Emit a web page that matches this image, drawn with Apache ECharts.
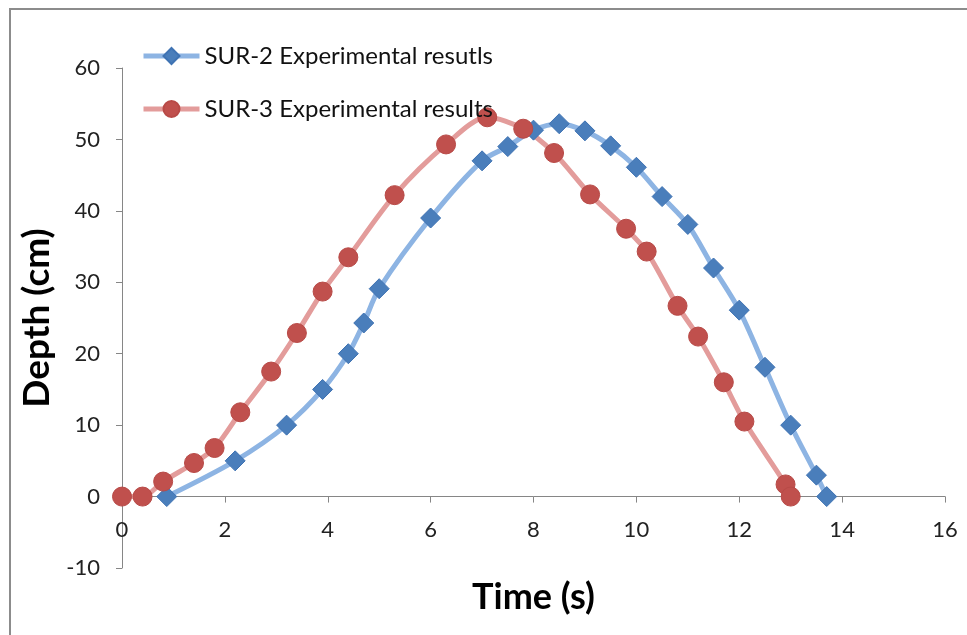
<!DOCTYPE html>
<html>
<head>
<meta charset="utf-8">
<script src="https://cdn.jsdelivr.net/npm/echarts@6/dist/echarts.min.js"></script>
<style>
  html, body { margin: 0; padding: 0; background: #fff; }
  #main { width: 967px; height: 635px; }
</style>
</head>
<body>
<div id="main"></div>
<script>
// SUR-2 (blue diamonds)
var sur2Time  = [0.87, 2.2, 3.2, 3.9, 4.4, 4.7, 5.0, 6.0, 7.0, 7.5, 8.0, 8.5, 9.0, 9.5, 10.0, 10.5, 11.0, 11.5, 12.0, 12.5, 13.0, 13.5, 13.7];
var sur2Depth = [0, 5, 10, 15, 20, 24.3, 29.1, 39, 47, 49, 51.3, 52.2, 51.2, 49.1, 46.1, 42, 38.1, 32, 26.1, 18.1, 10, 3, 0];
// SUR-3 (red circles)
var sur3Time  = [0, 0.4, 0.8, 1.4, 1.8, 2.3, 2.9, 3.4, 3.9, 4.4, 5.3, 6.3, 7.1, 7.8, 8.4, 9.1, 9.8, 10.2, 10.8, 11.2, 11.7, 12.1, 12.9, 13.0];
var sur3Depth = [0, 0, 2.1, 4.7, 6.8, 11.8, 17.5, 22.9, 28.7, 33.5, 42.2, 49.3, 53.1, 51.5, 48.1, 42.3, 37.5, 34.3, 26.7, 22.4, 16, 10.5, 1.7, 0];

var yMin = -10, yMax = 60;
var gridTop = 68, gridBottom = 67, chartH = 635;

function pairs(xs, ys) {
    var out = [];
    for (var i = 0; i < xs.length; i++) {
        out.push([xs[i], ys[i]]);
    }
    return out;
}

// x axis sits on depth 0, not at the bottom of the grid
var plotH = chartH - gridTop - gridBottom;
var xAxisOffset = -(0 - yMin) / (yMax - yMin) * plotH;

var myChart = echarts.init(document.getElementById('main'));
var fontName = 'Lato';
var option = {
    animation: false,
    backgroundColor: '#fff',
    graphic: [{
        type: 'rect',
        shape: { x: 10, y: 9, width: 1200, height: 900 },
        style: { fill: 'none', stroke: '#8c8c8c', lineWidth: 2 },
        silent: true
    }],
    legend: {
        orient: 'vertical',
        left: 141,
        top: 44,
        padding: 0,
        itemWidth: 56,
        itemHeight: 20,
        itemGap: 29,
        lineStyle: { width: 5 },
        textStyle: { fontFamily: fontName, fontSize: 24, color: '#111' },
        data: ['SUR-2 Experimental resutls', 'SUR-3 Experimental results']
    },
    grid: {
        left: 122,
        right: 22,
        top: gridTop,
        bottom: gridBottom,
        containLabel: false,
        outerBoundsMode: 'none'
    },
    xAxis: {
        type: 'value',
        min: 0,
        max: 16,
        interval: 2,
        offset: xAxisOffset,
        name: 'Time (s)',
        nameLocation: 'middle',
        nameGap: 83,
        nameTextStyle: { fontFamily: fontName, fontSize: 36, fontWeight: 'bold', color: '#000' },
        axisLine: { onZero: false, lineStyle: { color: '#868686', width: 1 } },
        axisTick: { show: true, length: 6, lineStyle: { color: '#868686' } },
        axisLabel: { fontFamily: fontName, fontSize: 22, color: '#222', margin: 22 },
        splitLine: { show: false }
    },
    yAxis: {
        type: 'value',
        min: yMin,
        max: yMax,
        interval: 10,
        name: 'Depth (cm)',
        nameLocation: 'middle',
        nameGap: 66,
        nameRotate: 90,
        nameTextStyle: { fontFamily: fontName, fontSize: 37, fontWeight: 'bold', color: '#000' },
        axisLine: { show: true, onZero: false, lineStyle: { color: '#868686', width: 1 } },
        axisTick: { show: true, length: 6, lineStyle: { color: '#868686' } },
        axisLabel: { fontFamily: fontName, fontSize: 22, color: '#222', margin: 22 },
        splitLine: { show: false }
    },
    series: [
        {
            name: 'SUR-2 Experimental resutls',
            type: 'line',
            smooth: 0.3,
            symbol: 'diamond',
            symbolSize: 20,
            lineStyle: { color: '#8db4e3', width: 5 },
            itemStyle: { color: '#4a7ebb', borderColor: '#3f73b3', borderWidth: 1 },
            data: pairs(sur2Time, sur2Depth)
        },
        {
            name: 'SUR-3 Experimental results',
            type: 'line',
            smooth: 0.3,
            symbol: 'circle',
            symbolSize: 19,
            lineStyle: { color: '#e39c9b', width: 5 },
            itemStyle: { color: '#c0504d', borderColor: '#b84a47', borderWidth: 1 },
            data: pairs(sur3Time, sur3Depth)
        }
    ]
};
myChart.setOption(option);
</script>
</body>
</html>
